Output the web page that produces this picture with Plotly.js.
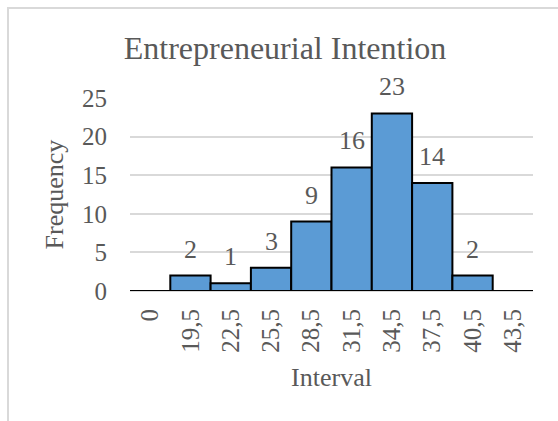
<!DOCTYPE html>
<html>
<head>
<meta charset="utf-8">
<script src="https://cdn.plot.ly/plotly-3.0.1.min.js"></script>
<style>
html,body{margin:0;padding:0;background:#fff;}
#wrap{position:relative;width:558px;height:421px;overflow:hidden;}
#chart{position:absolute;left:0;top:0;width:558px;height:421px;}
#frame{position:absolute;left:7px;top:7px;width:600px;height:500px;border-top:2px solid #d9d9d9;border-left:2px solid #d9d9d9;pointer-events:none;}
</style>
</head>
<body>
<div id="wrap"><div id="chart"></div><div id="frame"></div></div>
<script>
const categories = ["0","19,5","22,5","25,5","28,5","31,5","34,5","37,5","40,5","43,5"];
const frequency = [0, 2, 1, 3, 9, 16, 23, 14, 2, 0];
const yTicks = [0, 5, 10, 15, 20, 25];

const gray = "#595959";
const font = "Liberation Serif, Times New Roman, serif";

const annotations = categories.map((c, i) => frequency[i] > 0 ? {
  x: c, y: frequency[i], xref: "x", yref: "y",
  text: String(frequency[i]), showarrow: false,
  yanchor: "bottom", yshift: 10,
  font: {family: font, size: 26, color: gray}
} : null).filter(a => a);

const trace = {
  type: "bar",
  x: categories,
  y: frequency,
  marker: {color: "#5B9BD5", line: {color: "#000000", width: 2}},
  hoverinfo: "none"
};

const layout = {
  width: 558, height: 421,
  margin: {l: 130, r: 25, t: 98, b: 130},
  paper_bgcolor: "#ffffff", plot_bgcolor: "#ffffff",
  bargap: 0,
  showlegend: false,
  title: {
    text: "Entrepreneurial Intention",
    font: {family: font, size: 32, color: gray},
    x: 285/558, xref: "container", xanchor: "center",
    y: 1 - 48/421, yref: "container", yanchor: "middle"
  },
  xaxis: {
    type: "category",
    tickangle: -90,
    tickfont: {family: font, size: 25, color: gray},
    showgrid: false,
    showline: false,
    zeroline: false,
    ticks: "",
    ticklabelstandoff: 12,
    title: {text: "Interval", font: {family: font, size: 26, color: gray}, standoff: 16}
  },
  yaxis: {
    range: [0, 25],
    tickvals: yTicks,
    tickfont: {family: font, size: 25, color: gray},
    showgrid: true, gridcolor: "#d9d9d9", gridwidth: 2,
    zeroline: true, zerolinecolor: "#d9d9d9", zerolinewidth: 2,
    showline: false, ticks: "",
    ticklabelstandoff: 22,
    title: {text: "Frequency", font: {family: font, size: 26, color: gray}, standoff: 10}
  },
  annotations: annotations
};

Plotly.newPlot("chart", [trace], layout, {displayModeBar: false, staticPlot: true});
</script>
</body>
</html>
